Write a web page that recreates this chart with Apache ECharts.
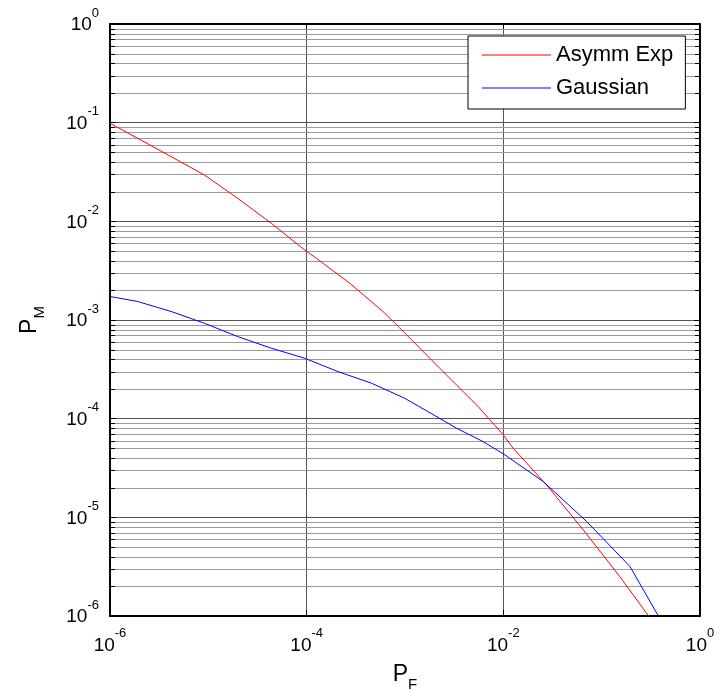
<!DOCTYPE html>
<html><head><meta charset="utf-8">
<script src="https://cdn.jsdelivr.net/npm/echarts@6/dist/echarts.min.js"></script>
<style>html,body{margin:0;padding:0;background:#fff}#c{width:722px;height:691px}</style>
</head><body><div id="c"></div>
<script>
// ---- data ----
const seriesNames = ['Asymm Exp', 'Gaussian'];
const pfAsymm = [1.0e-6, 1.91e-6, 4.18e-6, 9.12e-6, 1.99e-5, 4.36e-5, 9.53e-5, 1.25e-4, 2.74e-4, 5.97e-4, 8.83e-4, 2.44e-3, 5.53e-3, 1.0e-2, 1.26e-2, 2.75e-2, 6.50e-2, 0.153, 0.30];
const pmAsymm = [0.0986, 0.0695, 0.0453, 0.0295, 0.0171, 0.00957, 0.00513, 0.00423, 0.00236, 0.00122, 8.32e-4, 3.00e-4, 1.33e-4, 6.85e-5, 5.01e-5, 2.13e-5, 7.46e-6, 2.51e-6, 1.0e-6];
const pfGauss = [1.0e-6, 1.91e-6, 4.18e-6, 9.12e-6, 1.99e-5, 4.36e-5, 9.53e-5, 2.08e-4, 4.55e-4, 9.93e-4, 1.71e-3, 3.33e-3, 6.22e-3, 1.0e-2, 2.54e-2, 7.03e-2, 0.194, 0.377];
const pmGauss = [1.73e-3, 1.54e-3, 1.22e-3, 9.27e-4, 6.79e-4, 5.18e-4, 4.10e-4, 3.00e-4, 2.29e-4, 1.61e-4, 1.18e-4, 8.02e-5, 5.86e-5, 4.40e-5, 2.31e-5, 9.08e-6, 3.18e-6, 1.0e-6];
const xRange = [1e-6, 1];
const yRange = [1e-6, 1];
const yDecades = [1e-6, 1e-5, 1e-4, 1e-3, 1e-2, 1e-1];
const minorMultipliers = [2, 3, 4, 5, 6, 7, 8, 9];

const FONT = 'Liberation Sans, Arial, Helvetica, sans-serif';
const yMinor = [];
yDecades.forEach(d => minorMultipliers.forEach(m => yMinor.push([xRange[0], d * m])));

function expLabel(v) {
  const e = Math.round(Math.log10(v));
  return '{b|10}{e|' + e + '}';
}
const labelRich = {
  b: { fontSize: 19, padding: [9, 0, 0, 0], verticalAlign: 'bottom', fontFamily: FONT, color: '#000' },
  e: { fontSize: 13, verticalAlign: 'top', fontFamily: FONT, color: '#000' }
};
const nameRich = {
  p: { fontSize: 23, padding: [0, 0, 6, 0], verticalAlign: 'top', fontFamily: FONT, color: '#000' },
  s: { fontSize: 15, verticalAlign: 'bottom', fontFamily: FONT, color: '#000' }
};

function renderMinor(params, api) {
  const v = api.value(1);
  const p0 = api.coord([xRange[0], v]);
  const p1 = api.coord([xRange[1], v]);
  const y = Math.round(p0[1]) + 0.5;
  return { type: 'group', children: [
    { type: 'line', shape: { x1: p0[0], y1: y, x2: p1[0], y2: y }, style: { stroke: '#9a9a9a', lineWidth: 1 } },
    { type: 'line', shape: { x1: p0[0], y1: y, x2: p0[0] + 5, y2: y }, style: { stroke: '#000', lineWidth: 1 } },
    { type: 'line', shape: { x1: p1[0] - 5, y1: y, x2: p1[0], y2: y }, style: { stroke: '#000', lineWidth: 1 } }
  ]};
}

const axisLineStyle = { show: true, onZero: false, lineStyle: { color: '#000', width: 2 } };
const tickStyle = { show: true, inside: true, length: 6, lineStyle: { color: '#000', width: 1 } };

const chart = echarts.init(document.getElementById('c'), null, { renderer: 'canvas' });
chart.setOption({
  animation: false,
  backgroundColor: '#fff',
  textStyle: { fontFamily: FONT },
  grid: { left: 110, right: 22, top: 24, bottom: 75, containLabel: false, outerBoundsMode: 'none' },
  legend: {
    data: seriesNames.map(n => ({ name: n, icon: 'rect' })),
    orient: 'vertical',
    left: 468, top: 36,
    padding: [8, 12, 10, 14],
    itemGap: 11,
    itemWidth: 69, itemHeight: 1,
    backgroundColor: '#fff',
    borderColor: '#000', borderWidth: 1, borderRadius: 0,
    textStyle: { fontSize: 22, lineHeight: 22, fontFamily: FONT, color: '#000' }
  },
  xAxis: [{
    type: 'log', logBase: 10, min: xRange[0], max: xRange[1], interval: 2,
    position: 'bottom',
    axisLine: axisLineStyle, axisTick: tickStyle,
    axisLabel: { margin: 11, formatter: v => (Math.round(Math.log10(v)) % 2 === 0 ? expLabel(v) : ''), rich: labelRich },
    splitLine: { show: true, lineStyle: { color: '#555', width: 1 } },
    name: '{p|P}{s|F}', nameLocation: 'middle', nameGap: 47,
    nameTextStyle: { rich: nameRich }
  }, {
    type: 'log', logBase: 10, min: xRange[0], max: xRange[1], interval: 2,
    position: 'top',
    axisLine: axisLineStyle, axisTick: tickStyle,
    axisLabel: { show: false }, splitLine: { show: false }
  }],
  yAxis: [{
    type: 'log', logBase: 10, min: yRange[0], max: yRange[1],
    position: 'left',
    axisLine: axisLineStyle, axisTick: tickStyle,
    axisLabel: { margin: 11, formatter: expLabel, rich: labelRich, padding: [0, 0, 7, 0] },
    splitLine: { show: true, lineStyle: { color: '#555', width: 1 } },
    name: '{p|P}{s|M}', nameLocation: 'middle', nameGap: 63, nameRotate: 90,
    nameTextStyle: { rich: nameRich }
  }, {
    type: 'log', logBase: 10, min: yRange[0], max: yRange[1],
    position: 'right',
    axisLine: axisLineStyle, axisTick: tickStyle,
    axisLabel: { show: false }, splitLine: { show: false }
  }],
  series: [{
    type: 'custom', name: 'minorGrid', coordinateSystem: 'cartesian2d',
    xAxisIndex: 0, yAxisIndex: 0, z: 1, silent: true,
    renderItem: renderMinor, data: yMinor
  }, {
    type: 'line', name: seriesNames[0], xAxisIndex: 0, yAxisIndex: 0,
    data: pfAsymm.map((x, i) => [x, pmAsymm[i]]),
    symbol: 'none', z: 3,
    lineStyle: { color: '#ff0000', width: 1 }, itemStyle: { color: '#ff0000' }
  }, {
    type: 'line', name: seriesNames[1], xAxisIndex: 0, yAxisIndex: 0,
    data: pfGauss.map((x, i) => [x, pmGauss[i]]),
    symbol: 'none', z: 3,
    lineStyle: { color: '#0000ff', width: 1 }, itemStyle: { color: '#0000ff' }
  }]
});
</script></body></html>
